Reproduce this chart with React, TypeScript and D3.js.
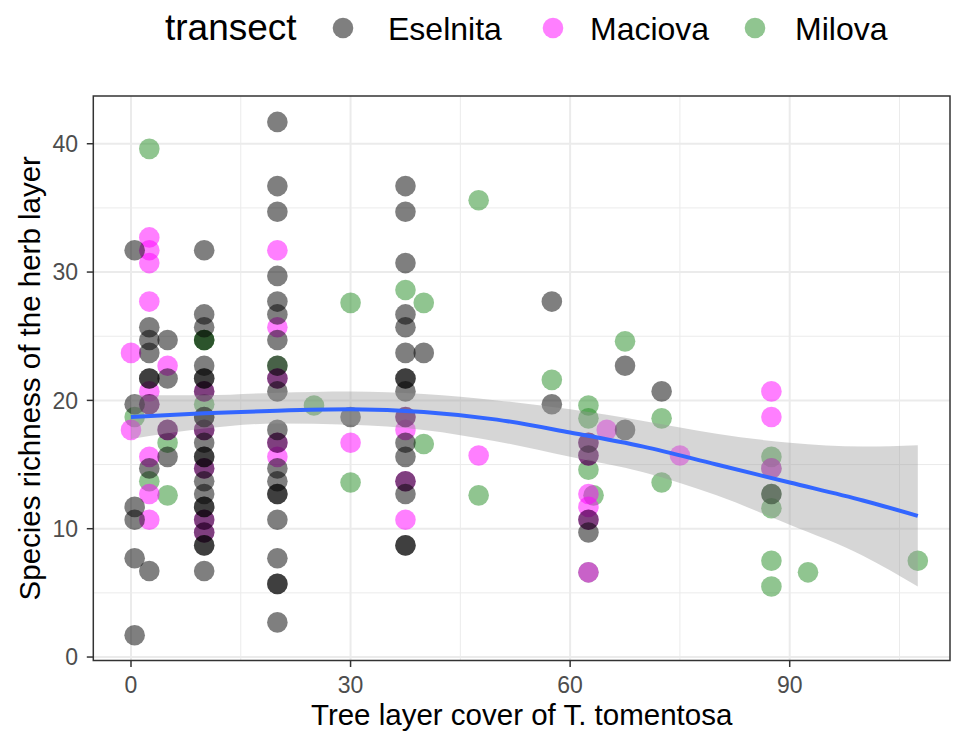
import React from 'react';
import * as d3 from 'd3';

// points per transect
const milovaX = [0.5, 2.5, 2.5, 5, 5, 10, 10, 10, 20, 25, 30, 30, 37.5, 40, 40, 47.5, 47.5, 57.5, 62.5, 62.5, 62.5, 63.2, 62.5, 67.5, 72.5, 72.5, 87.5, 87.5, 87.5, 87.5, 87.5, 87.5, 92.5, 107.5];
const milovaY = [18.7, 39.6, 13.7, 16.7, 12.6, 24.7, 24.7, 19.7, 22.7, 19.6, 27.6, 13.6, 28.6, 27.6, 16.6, 35.6, 12.6, 21.6, 19.6, 18.6, 14.6, 12.6, 6.6, 24.6, 18.6, 13.6, 15.6, 14.7, 12.7, 11.6, 7.5, 5.5, 6.6, 7.5];

const maciovaX = [0, 0, 2.5, 2.5, 2.5, 2.5, 2.5, 2.5, 2.5, 2.5, 2.5, 5, 5, 10, 10, 10, 10, 10, 20, 20, 20, 20, 20, 30, 37.5, 37.5, 37.5, 37.5, 47.5, 62.5, 62.5, 62.5, 62.5, 62.5, 62.5, 65, 75, 87.5, 87.5, 87.5];
const maciovaY = [23.7, 17.7, 32.7, 31.7, 30.7, 27.7, 20.7, 19.7, 15.6, 12.7, 10.7, 22.7, 17.7, 20.7, 17.7, 14.7, 10.7, 9.7, 31.7, 25.7, 21.7, 16.7, 15.6, 16.7, 18.7, 17.7, 13.7, 10.7, 15.7, 16.7, 15.7, 12.7, 11.7, 10.7, 6.6, 17.7, 15.7, 20.7, 18.7, 14.7];

const eselnitaX = [
  0.5, 0.5, 0.5, 0.5, 0.5, 0.5,
  2.5, 2.5, 2.5, 2.5, 2.5, 2.5, 2.5, 2.5,
  5, 5, 5, 5,
  10, 10, 10, 10, 10, 10, 10, 10, 10, 10, 10, 10, 10, 10, 10, 10, 10, 10, 10, 10, 10, 10, 10, 10,
  20, 20, 20, 20, 20, 20, 20, 20, 20, 20, 20, 20, 20, 20, 20, 20, 20, 20, 20, 20, 20,
  30,
  37.5, 37.5, 37.5, 37.5, 37.5, 37.5, 37.5, 37.5, 37.5, 37.5, 37.5, 37.5, 37.5, 37.5, 37.5, 37.5,
  40, 57.5, 57.5, 62.5, 62.5, 62.5, 62.5, 67.5, 67.5, 72.5, 87.5,
];
const eselnitaY = [
  31.7, 19.7, 11.7, 10.7, 7.7, 1.7,
  25.7, 24.7, 23.7, 21.7, 21.7, 19.7, 14.7, 6.7,
  24.7, 21.7, 17.7, 15.6,
  31.7, 26.7, 25.7, 24.7, 22.7, 21.7, 21.7, 20.7, 18.7, 18.7, 17.7, 16.7, 15.6, 15.6, 14.7, 13.7, 12.7, 11.7, 11.7, 10.7, 9.7, 8.7, 8.7, 6.7,
  41.7, 36.7, 34.7, 29.7, 27.7, 26.7, 24.7, 22.7, 21.7, 20.7, 17.7, 16.7, 14.7, 13.7, 12.7, 12.7, 10.7, 7.7, 5.7, 5.7, 2.7,
  18.7,
  36.7, 34.7, 30.7, 26.7, 25.7, 23.7, 21.7, 21.7, 20.7, 18.7, 16.7, 15.6, 13.7, 12.7, 8.7, 8.7,
  23.7, 27.7, 19.7, 16.7, 15.7, 10.7, 9.7, 22.7, 17.7, 20.7, 12.7,
];

// loess fit with its confidence band
const smoothX = [0, 10, 20, 30, 40, 50, 60, 70, 80, 90, 100, 107.5];
const smoothFit = [18.7, 19.0, 19.2, 19.3, 19.1, 18.5, 17.5, 16.4, 15.0, 13.6, 12.2, 11.0];
const smoothLo = [17.0, 17.8, 18.2, 18.1, 17.7, 16.8, 15.6, 14.4, 12.6, 10.3, 7.9, 5.5];
const smoothHi = [20.4, 20.4, 20.6, 20.7, 20.5, 20.0, 19.3, 18.4, 17.4, 16.7, 16.4, 16.5];

const xTicks = [0, 30, 60, 90];
const xMinor = [15, 45, 75, 105];
const yTicks = [0, 10, 20, 30, 40];
const yMinor = [5, 15, 25, 35];

const transects = ['Eselnita', 'Maciova', 'Milova'];
const colors = ['#000000', '#FF00FF', '#228B22'];

const W = 955;
const H = 731;
const panel = { left: 93.3, right: 950, top: 96, bottom: 660.5 };
const font = '"Liberation Sans", Arial, sans-serif';

export default function App() {
  const x = d3.scaleLinear().domain([-5.15, 111.9]).range([panel.left, panel.right]);
  const y = d3.scaleLinear().domain([-0.27, 43.72]).range([panel.bottom, panel.top]);

  const groups = [
    { xs: milovaX, ys: milovaY, color: colors[2] },
    { xs: maciovaX, ys: maciovaY, color: colors[1] },
    { xs: eselnitaX, ys: eselnitaY, color: colors[0] },
  ];

  const smooth = smoothX.map((v, i) => ({ x: v, fit: smoothFit[i], lo: smoothLo[i], hi: smoothHi[i] }));
  const band = d3.area<any>()
    .x(d => x(d.x))
    .y0(d => y(d.lo))
    .y1(d => y(d.hi))
    .curve(d3.curveMonotoneX);
  const line = d3.line<any>()
    .x(d => x(d.x))
    .y(d => y(d.fit))
    .curve(d3.curveMonotoneX);

  const legendKeys = [343, 553, 755];
  const legendText = [388, 590, 795];

  return (
    <svg width={W} height={H} style={{ position: 'absolute', left: 0, top: 0, background: '#fff' }} fontFamily={font}>
      <defs>
        <clipPath id="panel-clip">
          <rect x={panel.left} y={panel.top} width={panel.right - panel.left} height={panel.bottom - panel.top} />
        </clipPath>
      </defs>

      {/* grid */}
      <g clipPath="url(#panel-clip)">
        {xMinor.map(t => (
          <line key={'xm' + t} x1={x(t)} x2={x(t)} y1={panel.top} y2={panel.bottom} stroke="#EBEBEB" strokeWidth={1} />
        ))}
        {yMinor.map(t => (
          <line key={'ym' + t} x1={panel.left} x2={panel.right} y1={y(t)} y2={y(t)} stroke="#EBEBEB" strokeWidth={1} />
        ))}
        {xTicks.map(t => (
          <line key={'xg' + t} x1={x(t)} x2={x(t)} y1={panel.top} y2={panel.bottom} stroke="#EBEBEB" strokeWidth={2} />
        ))}
        {yTicks.map(t => (
          <line key={'yg' + t} x1={panel.left} x2={panel.right} y1={y(t)} y2={y(t)} stroke="#EBEBEB" strokeWidth={2} />
        ))}

        {/* points */}
        {groups.map((g, gi) =>
          g.xs.map((xv, i) => (
            <circle key={gi + '-' + i} cx={x(xv)} cy={y(g.ys[i])} r={10.3} fill={g.color} fillOpacity={0.5} />
          ))
        )}

        {/* smoother */}
        <path d={band(smooth) || ''} fill="#999999" fillOpacity={0.4} />
        <path d={line(smooth) || ''} fill="none" stroke="#3366FF" strokeWidth={4} />
      </g>

      <rect x={panel.left} y={panel.top} width={panel.right - panel.left} height={panel.bottom - panel.top}
        fill="none" stroke="#333333" strokeWidth={1.5} />

      {/* x axis */}
      {xTicks.map(t => (
        <g key={'xt' + t}>
          <line x1={x(t)} x2={x(t)} y1={panel.bottom} y2={panel.bottom + 6.5} stroke="#333333" strokeWidth={1.5} />
          <text x={x(t)} y={693} textAnchor="middle" fontSize={23} fill="#4D4D4D">{t}</text>
        </g>
      ))}
      {/* y axis */}
      {yTicks.map(t => (
        <g key={'yt' + t}>
          <line x1={panel.left - 6.5} x2={panel.left} y1={y(t)} y2={y(t)} stroke="#333333" strokeWidth={1.5} />
          <text x={78} y={y(t) + 8.2} textAnchor="end" fontSize={23} fill="#4D4D4D">{t}</text>
        </g>
      ))}

      <text x={(panel.left + panel.right) / 2} y={725} textAnchor="middle" fontSize={29.5} fill="#000">
        Tree layer cover of T. tomentosa
      </text>
      <text transform={`translate(40,${(panel.top + panel.bottom) / 2}) rotate(-90)`} textAnchor="middle" fontSize={29.5} fill="#000">
        Species richness of the herb layer
      </text>

      {/* legend */}
      <text x={165} y={40} fontSize={37} fill="#000">transect</text>
      {transects.map((name, i) => (
        <g key={name}>
          <circle cx={legendKeys[i]} cy={28} r={10.3} fill={colors[i]} fillOpacity={0.5} />
          <text x={legendText[i]} y={39.5} fontSize={32} fill="#000">{name}</text>
        </g>
      ))}
    </svg>
  );
}
